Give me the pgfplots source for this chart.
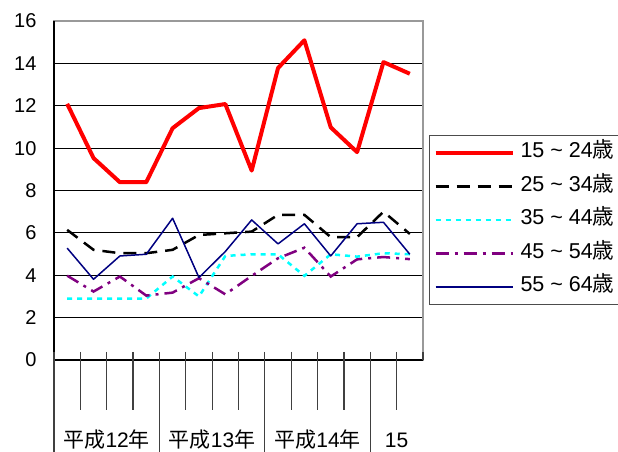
\documentclass[border=0pt]{standalone}
\usepackage{pgfplots}
\pgfplotsset{compat=1.18}
\usepackage{fontspec}
\setmainfont{Liberation Sans}
\newfontfamily\jp{Noto Sans CJK JP}
\definecolor{cy}{RGB}{0,255,255}
\definecolor{pu}{RGB}{128,0,128}
\definecolor{nv}{RGB}{0,0,128}
\definecolor{rd}{RGB}{255,0,0}

\pgfplotstableread{
x a b c d e
0  12.09 6.14 2.90 3.98 5.28
1  9.53  5.20 2.90 3.23 3.81
2  8.39  5.04 2.90 3.94 4.91
3  8.39  5.04 2.90 3.04 4.99
4  10.94 5.20 3.94 3.18 6.69
5  11.89 5.90 3.00 3.86 3.89
6  12.08 5.98 4.91 3.10 5.12
7  8.94  6.06 4.99 3.97 6.61
8  13.78 6.85 4.99 4.80 5.48
9  15.09 6.85 3.97 5.30 6.43
10 10.98 5.80 4.99 3.94 4.91
11 9.81  5.80 4.88 4.75 6.43
12 14.06 7.00 5.04 4.86 6.50
13 13.51 5.95 4.99 4.76 4.99
}\data

\begin{document}
\begin{tikzpicture}
\begin{axis}[
  at={(54bp,92bp)}, anchor=south west,
  scale only axis, width=369bp, height=339bp,
  xmin=-0.5, xmax=13.5, ymin=0, ymax=16,
  ytick={0,2,...,16}, xtick=\empty,
  ymajorgrids, grid style={black, line width=0.8bp},
  ytick style={draw=none},
  yticklabel style={font=\fontsize{20bp}{24bp}\selectfont, xshift=-14bp},
  /pgf/number format/assume math mode=true,
  axis line style={draw=gray!80, line width=1.5bp},
  clip=false,
  legend style={at={(axis description cs:1.0163,0.6637)}, anchor=north west,
    draw=gray!60!black, line width=1bp,
    font=\fontsize{21.5bp}{24bp}\selectfont,
    row sep=10.5bp,
    inner xsep=4bp, inner ysep=6bp,
    nodes={inner ysep=0bp, text height=16bp, text depth=7bp},
    /tikz/every odd column/.append style={column sep=4bp}},
  legend cell align=left,
  legend image code/.code={\draw[#1] (0bp,0bp) -- (77bp,0bp);},
]
\addplot[rd, line width=4bp, line join=round] table[x=x,y=a]{\data};
\addlegendentry{15 \textasciitilde{} 24{\jp 歳}}
\addplot[black, line width=2.5bp, dash pattern=on 13bp off 8bp] table[x=x,y=b]{\data};
\addlegendentry{25 \textasciitilde{} 34{\jp 歳}}
\addplot[cy, line width=2.5bp, dash pattern=on 5bp off 5bp] table[x=x,y=c]{\data};
\addlegendentry{35 \textasciitilde{} 44{\jp 歳}}
\addplot[pu, line width=2.5bp, dash pattern=on 13bp off 6bp on 3bp off 6bp] table[x=x,y=d]{\data};
\addlegendentry{45 \textasciitilde{} 54{\jp 歳}}
\addplot[nv, line width=1.5bp, line join=round] table[x=x,y=e]{\data};
\addlegendentry{55 \textasciitilde{} 64{\jp 歳}}

\draw[black, line width=1.3bp] (rel axis cs:0,1) -- (rel axis cs:0,0) -- (rel axis cs:1,0);
\pgfplotsinvokeforeach{0.5,1.5,2.5,4.5,5.5,6.5,8.5,9.5,10.5,12.5}{
  \draw[black!75, line width=1.2bp] ([yshift=8bp]axis cs:#1,0) -- ([yshift=-50bp]axis cs:#1,0);
}
\pgfplotsinvokeforeach{-0.5,3.5,7.5,11.5}{
  \draw[black!75, line width=1.2bp] ([yshift=8bp]axis cs:#1,0) -- ([yshift=-100bp]axis cs:#1,0);
}
\draw[black!75, line width=1.2bp] (axis cs:13.5,0) -- ([yshift=8bp]axis cs:13.5,0);
\node[font=\fontsize{21bp}{24bp}\selectfont, anchor=base, inner sep=0pt] at ([yshift=-87bp]axis cs:1.5,0) {{\jp 平成}12{\jp 年}};
\node[font=\fontsize{21bp}{24bp}\selectfont, anchor=base, inner sep=0pt] at ([yshift=-87bp]axis cs:5.5,0) {{\jp 平成}13{\jp 年}};
\node[font=\fontsize{21bp}{24bp}\selectfont, anchor=base, inner sep=0pt] at ([yshift=-87bp]axis cs:9.5,0) {{\jp 平成}14{\jp 年}};
\node[font=\fontsize{21bp}{24bp}\selectfont, anchor=base, inner sep=0pt] at ([yshift=-87bp]axis cs:12.5,0) {15};
\end{axis}
\pgfresetboundingbox
\useasboundingbox (0,0) rectangle (618bp,452bp);
\end{tikzpicture}
\end{document}
